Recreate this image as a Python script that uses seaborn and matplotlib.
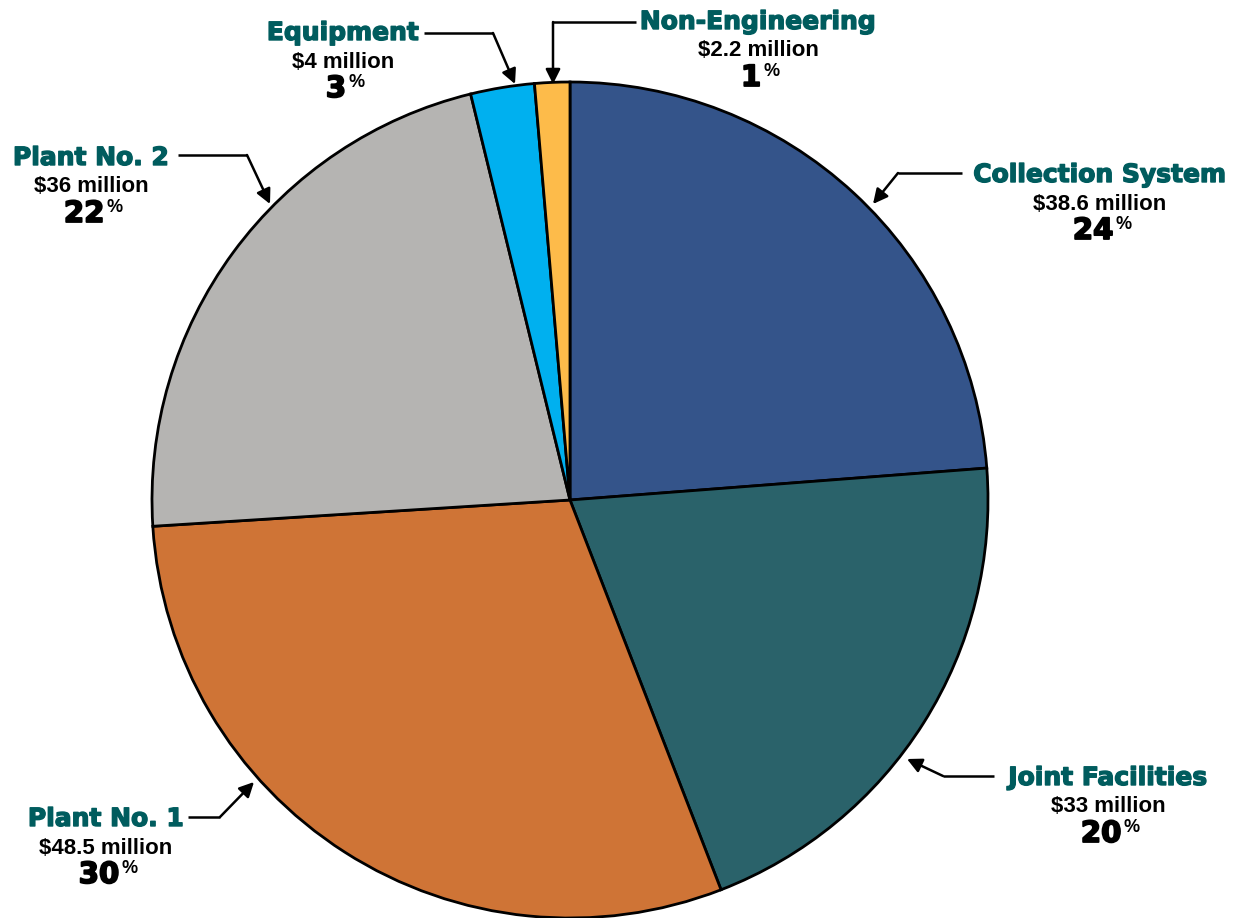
import matplotlib
matplotlib.use("Agg")
import matplotlib.pyplot as plt
import matplotlib.patheffects as pe
import seaborn as sns

# Budget breakdown by program area
categories = ["Collection System", "Joint Facilities", "Plant No. 1",
              "Plant No. 2", "Equipment", "Non-Engineering"]
amounts = [38.6, 33.0, 48.5, 36.0, 4.0, 2.2]          # $ million
amount_labels = ["$38.6 million", "$33 million", "$48.5 million",
                 "$36 million", "$4 million", "$2.2 million"]
percent_labels = ["24", "20", "30", "22", "3", "1"]
slice_colors = ["#34548A", "#2A626A", "#CF7436", "#B5B4B2", "#00B0EF", "#FDBB4A"]

sns.set_theme(style="white")
plt.rcParams["font.family"] = ["DejaVu Sans"]

W, H = 1244, 918
fig = plt.figure(figsize=(W / 100, H / 100), dpi=100)
ax = fig.add_axes([0, 0, 1, 1])


def P(x, y):
    """Pixel position measured from the top-left corner -> data coords."""
    return (x, H - y)


palette = sns.color_palette(slice_colors)
ax.pie(amounts, colors=palette, startangle=90, counterclock=False,
       center=P(570, 500), radius=418,
       wedgeprops=dict(edgecolor="black", linewidth=2))
ax.set_xlim(0, W)
ax.set_ylim(0, H)
ax.set_aspect("equal")
ax.axis("off")

TEAL = "#005C5E"


def heavy(color, w=1.0):
    # thicken the bold face into a black-weight look
    return [pe.withStroke(linewidth=w, foreground=color)]


# label block layout: (text center x, heading y, polyline path ending in the arrow tip)
layout = {
    "Collection System": (1100, 175, [(962, 173), (898, 173), (873, 204)]),
    "Joint Facilities": (1108, 778, [(994, 776), (943, 776), (907, 759)]),
    "Plant No. 1": (106, 819, [(188, 817), (220, 817), (254, 782)]),
    "Plant No. 2": (91, 158, [(178, 155), (247, 155), (270, 204)]),
    "Equipment": (343, 33, [(424, 33), (493, 33), (515, 84)]),
    "Non-Engineering": (758, 22, [(636, 22), (553, 22), (553, 84)]),
}

for name, amt, pct in zip(categories, amount_labels, percent_labels):
    cx, hy, path = layout[name]
    ax.text(*P(cx, hy), name, ha="center", va="center", color=TEAL,
            fontsize=18, fontweight="bold", path_effects=heavy(TEAL, 1.0))
    ax.text(*P(cx, hy + 29), amt, ha="center", va="center", color="black",
            fontsize=16, fontweight="bold", family="Liberation Sans")
    num = ax.text(*P(cx - 7, hy + 56), pct, ha="center", va="center",
                  color="black", fontsize=21, fontweight="bold",
                  path_effects=heavy("black", 1.3))
    ax.annotate("%", xy=(1.0, 1.0), xycoords=num, xytext=(1.5, 1),
                textcoords="offset points", ha="left", va="top",
                fontsize=13, fontweight="bold", color="black",
                family="Liberation Sans")
    pts = [P(*p) for p in path]
    ax.plot([p[0] for p in pts[:-1]], [p[1] for p in pts[:-1]],
            color="black", lw=1.8, solid_capstyle="butt")
    ax.annotate("", xy=pts[-1], xytext=pts[-2],
                arrowprops=dict(arrowstyle="-|>", color="black", lw=1.8,
                                mutation_scale=22, shrinkA=0, shrinkB=0))

fig.savefig("out.png", dpi=100, facecolor="white")
